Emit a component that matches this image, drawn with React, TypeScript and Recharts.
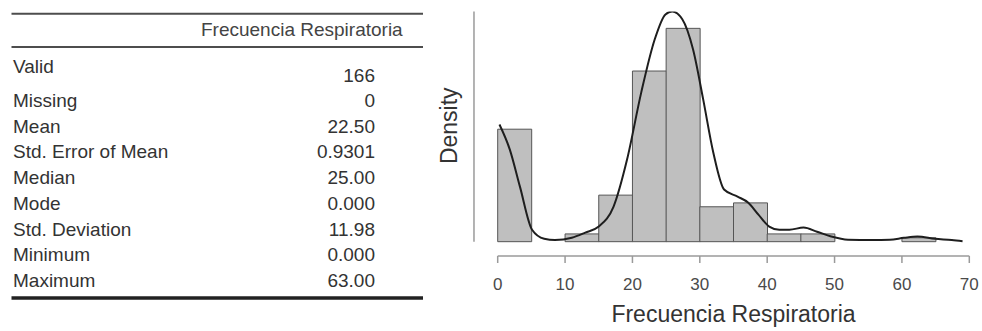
import { ComposedChart, Bar, Line, XAxis, YAxis, ReferenceLine } from 'recharts';

const FONT = '"Liberation Sans", Arial, Helvetica, sans-serif';

// descriptives table
const tableTitle = 'Frecuencia Respiratoria';
const tableLabels = ['Valid', 'Missing', 'Mean', 'Std. Error of Mean', 'Median', 'Mode', 'Std. Deviation', 'Minimum', 'Maximum'];
const tableValues = ['166', '0', '22.50', '0.9301', '25.00', '0.000', '11.98', '0.000', '63.00'];

// histogram (counts per 5-wide bin, n = 166)
const N = 166;
const BIN_WIDTH = 5;
const binStarts = [0, 5, 10, 15, 20, 25, 30, 35, 40, 45, 50, 55, 60, 65];
const binCounts = [29, 0, 2, 12, 44, 55, 9, 10, 2, 2, 0, 0, 1, 0];

// kernel density curve
const densityX = [0.26, 1.8, 3.3, 5.1, 6.9, 8.5, 11, 13, 15, 17.2, 19.2, 21.3, 23.3, 24.9, 25.9, 27.4, 29, 30.5, 32, 33.6, 35.6, 37.2, 38.7, 40.3, 41.8, 43.3, 45.4, 47.4, 49.5, 52, 55.6, 58.2, 60.3, 62.3, 64.9, 67.4, 69];
const densityY = [0.0364, 0.0286, 0.0171, 0.0037, 0.0009, 0.0005, 0.0012, 0.0028, 0.0047, 0.0109, 0.0255, 0.0463, 0.0628, 0.0706, 0.0715, 0.0691, 0.0597, 0.0442, 0.0277, 0.0162, 0.014, 0.0121, 0.0084, 0.0047, 0.0037, 0.0037, 0.0044, 0.0031, 0.0016, 0.0006, 0.0005, 0.0006, 0.0012, 0.0016, 0.0009, 0.0005, 0.0001];

const xTicks = [0, 10, 20, 30, 40, 50, 60, 70];

const bins = binStarts.map((start, i) => ({
  bin: `${start}-${start + BIN_WIDTH}`,
  density: binCounts[i] / (N * BIN_WIDTH),
}));
const curve = densityX.map((x, i) => ({ x, d: densityY[i] }));

const rowBaselines = [107.3, 132.7, 158.3, 184, 210, 235.7, 261, 286.7];

function StatsTable() {
  return (
    <svg width={440} height={331} style={{ position: 'absolute', left: 0, top: 0 }}>
      <line x1={11.5} x2={423} y1={13.7} y2={13.7} stroke="#4d4d4d" strokeWidth={2} />
      <text x={402.7} y={35.7} textAnchor="end" fontSize={19} fontFamily={FONT} fill="#444">
        {tableTitle}
      </text>
      <line x1={11.5} x2={423} y1={47} y2={47} stroke="#4d4d4d" strokeWidth={2} />
      {tableLabels.map((label, i) => (
        <g key={label} fontSize={19} fontFamily={FONT} fill="#333">
          <text x={13} y={i === 0 ? 73.3 : rowBaselines[i - 1]}>{label}</text>
          <text x={375} y={i === 0 ? 81.7 : rowBaselines[i - 1]} textAnchor="end">
            {tableValues[i]}
          </text>
        </g>
      ))}
      <line x1={11.5} x2={423} y1={298} y2={298} stroke="#222" strokeWidth={3.5} />
    </svg>
  );
}

// baseline of the rotated label sits ~40px left of the plot
const DensityLabel = ({ viewBox }: any) => {
  const cx = viewBox.x + viewBox.width - 40.7;
  const cy = viewBox.y + viewBox.height / 2 - 8;
  return (
    <text x={cx} y={cy} transform={`rotate(-90 ${cx} ${cy})`} textAnchor="middle" fontSize={23} fontFamily={FONT} fill="#333">
      Density
    </text>
  );
};

const XTitle = ({ viewBox }: any) => (
  <text x={viewBox.x + viewBox.width / 2} y={viewBox.y + 66} textAnchor="middle" fontSize={23} fontFamily={FONT} fill="#333">
    Frecuencia Respiratoria
  </text>
);

export default function App() {
  return (
    <div style={{ position: 'absolute', left: 0, top: 0, width: 982, height: 331, background: '#fff' }}>
      <StatsTable />
      <div style={{ position: 'absolute', left: 430, top: 0 }}>
        <ComposedChart
          width={552}
          height={331}
          data={bins}
          barCategoryGap={0}
          margin={{ top: 11.5, right: 12.7, left: 0, bottom: 0 }}
        >
          <XAxis
            xAxisId="num"
            dataKey="x"
            type="number"
            domain={[0, 70]}
            ticks={xTicks}
            allowDataOverflow
            height={75}
            stroke="#9a9a9a"
            strokeWidth={1.5}
            tickSize={7}
            tickMargin={15}
            tick={{ fill: '#4a4a4a', fontSize: 17, fontFamily: FONT }}
            label={{ content: <XTitle /> }}
          />
          <XAxis xAxisId="bins" dataKey="bin" type="category" height={0} hide />
          <YAxis
            domain={[-0.00445, 0.0715]}
            allowDataOverflow
            width={67.7}
            tick={false}
            tickLine={false}
            axisLine={false}
            label={{ content: <DensityLabel /> }}
          />
          <ReferenceLine
            xAxisId="num"
            segment={[{ x: -3.52, y: 0 }, { x: -3.52, y: 0.0715 }]}
            ifOverflow="visible"
            stroke="#9a9a9a"
            strokeWidth={1.5}
          />
          <Bar
            xAxisId="bins"
            dataKey="density"
            fill="#bfbfbf"
            stroke="#555"
            strokeWidth={1}
            isAnimationActive={false}
          />
          <Line
            xAxisId="num"
            data={curve}
            dataKey="d"
            type="monotone"
            stroke="#1e1e1e"
            strokeWidth={2}
            dot={false}
            activeDot={false}
            isAnimationActive={false}
          />
        </ComposedChart>
      </div>
    </div>
  );
}
